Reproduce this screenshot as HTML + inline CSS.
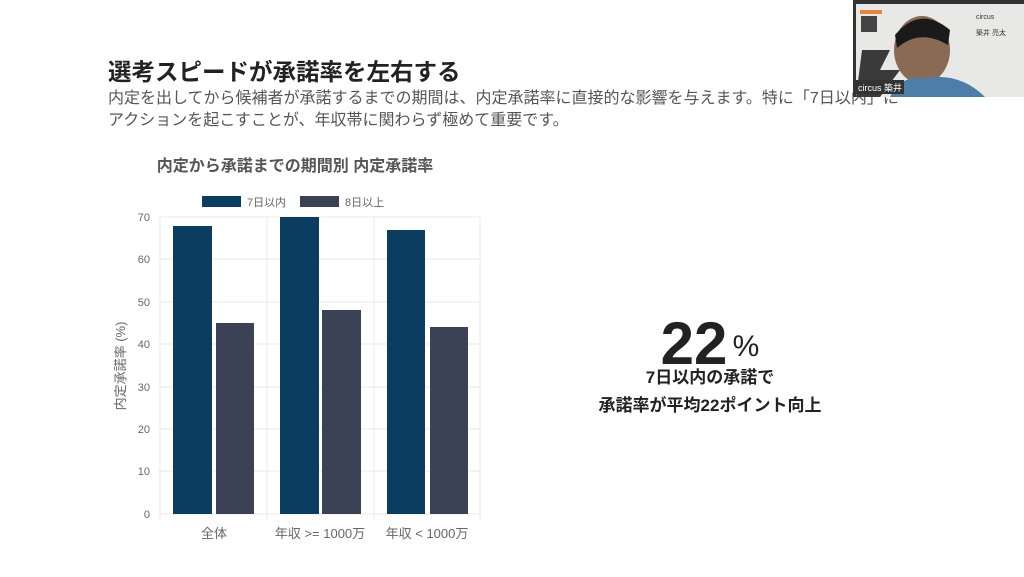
<!DOCTYPE html>
<html><head><meta charset="utf-8">
<style>
html,body{margin:0;padding:0;}
body{width:1024px;height:577px;background:#fff;position:relative;overflow:hidden;font-family:"Liberation Sans","Noto Sans CJK JP",sans-serif;}
.t{position:absolute;white-space:nowrap;}
</style></head><body>
<div class="t" style="left:108px;top:53px;font-size:23.5px;font-weight:bold;color:#222;">選考スピードが承諾率を左右する</div>
<div class="t" style="left:108px;top:88px;font-size:16px;color:#555;line-height:22px;">内定を出してから候補者が承諾するまでの期間は、内定承諾率に直接的な影響を与えます。特に「7日以内」に<br>アクションを起こすことが、年収帯に関わらず極めて重要です。</div>

<svg width="1024" height="577" style="position:absolute;left:0;top:0" font-family="Liberation Sans, Noto Sans CJK JP, sans-serif">
<text x="295" y="171" text-anchor="middle" font-size="16" font-weight="bold" fill="#555">内定から承諾までの期間別 内定承諾率</text>
<rect x="202" y="196" width="39" height="11" fill="#0b3d60"/>
<text x="247" y="206" font-size="11" fill="#666">7日以内</text>
<rect x="300" y="196" width="39" height="11" fill="#3b4256"/>
<text x="345" y="206" font-size="11" fill="#666">8日以上</text>
<g stroke="#e8e8e8" stroke-width="1">
<line x1="158" y1="217" x2="480" y2="217"/><line x1="158" y1="259" x2="480" y2="259"/>
<line x1="158" y1="302" x2="480" y2="302"/><line x1="158" y1="344" x2="480" y2="344"/>
<line x1="158" y1="387" x2="480" y2="387"/><line x1="158" y1="429" x2="480" y2="429"/>
<line x1="158" y1="471" x2="480" y2="471"/><line x1="158" y1="514" x2="480" y2="514"/>
<line x1="160" y1="217" x2="160" y2="520"/><line x1="267" y1="217" x2="267" y2="520"/>
<line x1="374" y1="217" x2="374" y2="520"/><line x1="480" y1="217" x2="480" y2="520"/>
</g>
<g font-size="11" fill="#666" text-anchor="end">
<text x="150" y="221">70</text><text x="150" y="263">60</text><text x="150" y="306">50</text>
<text x="150" y="348">40</text><text x="150" y="391">30</text><text x="150" y="433">20</text>
<text x="150" y="475">10</text><text x="150" y="518">0</text>
</g>
<text transform="translate(125,366) rotate(-90)" text-anchor="middle" font-size="13" fill="#666">内定承諾率 (%)</text>
<rect x="173" y="226" width="39" height="288" fill="#0b3d60"/>
<rect x="216" y="323" width="38" height="191" fill="#3b4256"/>
<rect x="280" y="217" width="39" height="297" fill="#0b3d60"/>
<rect x="322" y="310" width="39" height="204" fill="#3b4256"/>
<rect x="387" y="230" width="38" height="284" fill="#0b3d60"/>
<rect x="430" y="327" width="38" height="187" fill="#3b4256"/>
<g font-size="13" fill="#666" text-anchor="middle">
<text x="214" y="538">全体</text><text x="320" y="538">年収 &gt;= 1000万</text><text x="427" y="538">年収 &lt; 1000万</text>
</g>
<text x="694" y="364" text-anchor="middle" font-size="60" font-weight="bold" fill="#222">22</text>
<text x="746" y="356" text-anchor="middle" font-size="30" fill="#222">%</text>
<text x="710" y="383" text-anchor="middle" font-size="17" font-weight="bold" fill="#222">7日以内の承諾で</text>
<text x="710" y="411" text-anchor="middle" font-size="17" font-weight="bold" fill="#222">承諾率が平均22ポイント向上</text>

<rect x="853" y="0" width="171" height="97" fill="#333"/>
<rect x="856" y="4" width="168" height="93" fill="#e8e8e6"/>
<rect x="860" y="10" width="22" height="4" fill="#e8843a"/>
<rect x="861" y="16" width="16" height="16" fill="#444"/>
<path d="M862 50 L890 50 L880 70 L900 70 L880 97 L856 97 Z" fill="#3a3a3a"/>
<ellipse cx="922" cy="50" rx="28" ry="34" fill="#8a6a55"/>
<path d="M895 35 Q920 5 950 30 L948 45 Q920 28 897 48 Z" fill="#1a1a1a"/>
<path d="M890 97 Q900 75 925 78 Q960 72 985 97 Z" fill="#4d7ea8"/>
<text x="976" y="19" font-size="7" fill="#333">circus</text>
<text x="976" y="35" font-size="7" fill="#333">築井 亮太</text>
<rect x="856" y="80" width="48" height="14" fill="#333"/>
<text x="858" y="91" font-size="9" fill="#fff">circus 築井</text>
</svg>
</body></html>
